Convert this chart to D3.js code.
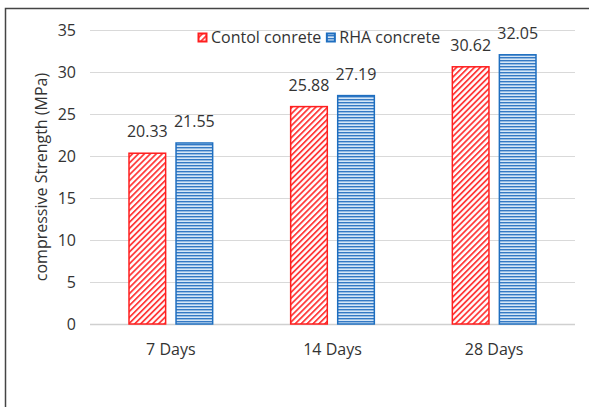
<!DOCTYPE html>
<html>
<head>
<meta charset="utf-8">
<script src="https://cdn.jsdelivr.net/npm/d3@7"></script>
<style>
  body { margin: 0; background: #fff; }
  text { font-family: "Open Sans", "Noto Sans", sans-serif; fill: #333; }
</style>
</head>
<body>
<script>
// donnees
const categories = ['7 Days', '14 Days', '28 Days']
const seriesNames = ['Contol conrete', 'RHA concrete']
const control = [20.33, 25.88, 30.62]
const rha = [21.55, 27.19, 32.05]
const yTicks = [0, 5, 10, 15, 20, 25, 30, 35]

const WIDTH = 589
const HEIGHT = 407
const plot = { left: 90, right: 575, top: 30, bottom: 324 }
const FONT = 16

const svg = d3.select('body').append('svg')
  .attr('width', WIDTH)
  .attr('height', HEIGHT)

// motifs de remplissage
const defs = svg.append('defs')
const hatch = defs.append('pattern')
  .attr('id', 'hatchRed')
  .attr('patternUnits', 'userSpaceOnUse')
  .attr('width', 4.2).attr('height', 4.2)
  .attr('patternTransform', 'rotate(45)')
hatch.append('rect').attr('width', 4.2).attr('height', 4.2).attr('fill', '#fff')
hatch.append('rect').attr('width', 1.8).attr('height', 4.2).attr('fill', '#ff3b3b')

const stripes = defs.append('pattern')
  .attr('id', 'stripeBlue')
  .attr('patternUnits', 'userSpaceOnUse')
  .attr('width', 4).attr('height', 3)
stripes.append('rect').attr('width', 4).attr('height', 3).attr('fill', '#d6e7f7')
stripes.append('rect').attr('width', 4).attr('height', 1.4).attr('fill', '#3479c4')

// cadre
svg.append('path')
  .attr('d', `M5.5,${HEIGHT} L5.5,8.5 L${WIDTH},8.5`)
  .attr('fill', 'none')
  .attr('stroke', '#444')
  .attr('stroke-width', 1.5)

const yScale = d3.scaleLinear()
  .domain([0, 35])
  .range([plot.bottom, plot.top])

const xScale = d3.scaleBand()
  .domain(categories)
  .range([plot.left, plot.right])

const inner = d3.scaleBand()
  .domain(seriesNames)
  .range([38.5, xScale.bandwidth() - 38.5])
  .paddingInner(0.2)

// grille
svg.append('g')
  .selectAll('line')
  .data(yTicks)
  .join('line')
  .attr('x1', plot.left)
  .attr('x2', plot.right)
  .attr('y1', d => Math.round(yScale(d)) + 0.5)
  .attr('y2', d => Math.round(yScale(d)) + 0.5)
  .attr('stroke', d => d === 0 ? '#d0d0d0' : '#d9d9d9')
  .attr('stroke-width', d => d === 0 ? 1.5 : 1)

// axe vertical
const axisY = d3.axisLeft(yScale)
  .tickValues(yTicks)
  .tickSize(0)
  .tickPadding(0)
svg.append('g')
  .attr('transform', `translate(76,0)`)
  .attr('font-size', FONT)
  .call(axisY)
  .call(g => g.select('.domain').remove())
  .call(g => g.selectAll('text')
    .attr('font-size', FONT)
    .attr('fill', '#444')
    .style('font-family', '"Open Sans", sans-serif'))

// axe horizontal
const axisX = d3.axisBottom(xScale).tickSize(0).tickPadding(0)
svg.append('g')
  .attr('transform', `translate(0,${plot.bottom + 20})`)
  .attr('font-size', FONT)
  .call(axisX)
  .call(g => g.select('.domain').remove())
  .call(g => g.selectAll('text')
    .attr('font-size', FONT)
    .attr('fill', '#333')
    .style('font-family', '"Open Sans", sans-serif'))

// titre axe Y
svg.append('text')
  .attr('transform', `translate(47,${(plot.top + plot.bottom) / 2}) rotate(-90)`)
  .attr('text-anchor', 'middle')
  .attr('font-size', FONT)
  .attr('fill', '#222')
  .text('compressive Strength (MPa)')

// barres
const series = [
  { name: seriesNames[0], values: control, fill: 'url(#hatchRed)', stroke: '#ff1f1f' },
  { name: seriesNames[1], values: rha, fill: 'url(#stripeBlue)', stroke: '#1f6fc0' }
]

series.forEach(s => {
  const g = svg.append('g')
  g.selectAll('rect')
    .data(s.values)
    .join('rect')
    .attr('x', (d, i) => xScale(categories[i]) + inner(s.name) + 0.5)
    .attr('y', d => yScale(d))
    .attr('width', inner.bandwidth() - 1)
    .attr('height', d => plot.bottom - yScale(d))
    .attr('fill', s.fill)
    .attr('stroke', s.stroke)
    .attr('stroke-width', 1.5)

  g.selectAll('text')
    .data(s.values)
    .join('text')
    .attr('x', (d, i) => xScale(categories[i]) + inner(s.name) + inner.bandwidth() / 2)
    .attr('y', d => yScale(d) - 16)
    .attr('text-anchor', 'middle')
    .attr('font-size', FONT)
    .attr('fill', '#333')
    .text(d => d.toFixed(2))
})

// legende
const legend = svg.append('g').attr('transform', 'translate(197,32)')
let lx = 0
series.forEach(s => {
  const item = legend.append('g').attr('transform', `translate(${lx},0)`)
  item.append('rect')
    .attr('x', 0.5).attr('y', 0.5)
    .attr('width', 10).attr('height', 10)
    .attr('fill', s.stroke)
  item.append('rect')
    .attr('x', 2.5).attr('y', 2.5)
    .attr('width', 6).attr('height', 6)
    .attr('fill', s.fill)
  const t = item.append('text')
    .attr('x', 14)
    .attr('y', 11)
    .attr('font-size', FONT)
    .attr('fill', '#333')
    .text(s.name)
  lx += 14 + t.node().getComputedTextLength() + 4
})
</script>
</body>
</html>
